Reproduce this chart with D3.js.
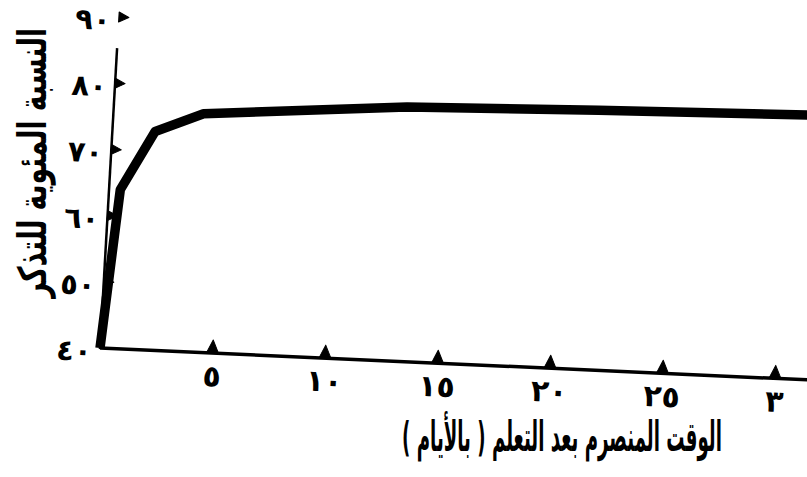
<!DOCTYPE html>
<html>
<head>
<meta charset="utf-8">
<script src="https://cdn.jsdelivr.net/npm/d3@7"></script>
<style>
  body { margin: 0; background: white; }
  text { font-family: "DejaVu Sans", sans-serif; font-weight: bold; }
</style>
</head>
<body>
<div id="container"></div>
<script>
/* CONSTANTS AND GLOBALS */
const width = 807,
  height = 477;

// DATA
const days = [0, 0.5, 1.9, 4, 13, 21.5, 32];
const recall = [40, 64, 73, 76, 78.4, 79.2, 80];
const xTicks = [5, 10, 15, 20, 25, 30];
const xTickLabels = ["٥", "١٠", "١٥", "٢٠", "٢٥", "٣"];
const yTicks = [40, 50, 60, 70, 80, 90];
const yTickLabels = ["٤٠", "٥٠", "٦٠", "٧٠", "٨٠", "٩٠"];
const xTitle = "الوقت المنصرم بعد التعلم ( بالأيام )";
const yTitle = "النسبة المئوية للتذكر";

const data = days.map((d, i) => ({ day: d, value: recall[i] }));

// SCALES (local frame, origin at the axes corner)
const xScale = d3.scaleLinear()
  .domain([0, 30])
  .range([0, 675]);

const yScale = d3.scaleLinear()
  .domain([40, 90])
  .range([0, -331]);

// CREATE SVG ELEMENT
const svg = d3.select("#container")
  .append("svg")
  .attr("width", width)
  .attr("height", height)
  .style("background-color", "white");

// the scanned page is a little skewed, so the plot sits in a tilted frame
const plot = svg.append("g")
  .attr("transform", "matrix(1 0.045 -0.057 1 100 348)");

// BUILD AND CALL AXES
const xAxis = d3.axisBottom(xScale)
  .tickValues(xTicks)
  .tickFormat((d, i) => xTickLabels[i])
  .tickSize(0)
  .tickPadding(12);

const xAxisGroup = plot.append("g")
  .attr("class", "xAxis")
  .call(xAxis);

xAxisGroup.select(".domain").remove();
xAxisGroup.selectAll("text")
  .attr("font-size", 30)
  .attr("letter-spacing", -2)
  .attr("fill", "black");

const yAxis = d3.axisLeft(yScale)
  .tickValues(yTicks)
  .tickFormat((d, i) => yTickLabels[i])
  .tickSize(0)
  .tickPadding(8);

const yAxisGroup = plot.append("g")
  .attr("class", "yAxis")
  .call(yAxis);

yAxisGroup.select(".domain").remove();
yAxisGroup.selectAll("text")
  .attr("font-size", 29)
  .attr("letter-spacing", -4)
  .attr("dy", "0.45em")
  .attr("fill", "black");

// axis lines
plot.append("line")
  .attr("x1", xScale(0))
  .attr("x2", xScale(32))
  .attr("y1", 0)
  .attr("y2", 0)
  .attr("stroke", "black")
  .attr("stroke-width", 3.5);

plot.append("line")
  .attr("x1", 0)
  .attr("x2", 0)
  .attr("y1", yScale(40) + 1)
  .attr("y2", yScale(85.3))
  .attr("stroke", "black")
  .attr("stroke-width", 2.5);

// tick marks: little triangles
plot.selectAll(".xTick")
  .data(xTicks)
  .join("path")
  .attr("class", "xTick")
  .attr("d", d => `M${xScale(d) - 6},0 L${xScale(d)},-13 L${xScale(d) + 6},0 Z`)
  .attr("fill", "black")
  .attr("stroke", "black")
  .attr("stroke-linejoin", "round");

plot.selectAll(".yTick")
  .data(yTicks.slice(1))
  .join("path")
  .attr("class", "yTick")
  .attr("d", d => `M0,${yScale(d) - 5} L10,${yScale(d)} L0,${yScale(d) + 5} Z`)
  .attr("fill", "black")
  .attr("stroke", "black")
  .attr("stroke-linejoin", "round");

// LINE
const lineGen = d3.line()
  .x(d => xScale(d.day))
  .y(d => yScale(d.value));

plot.append("path")
  .datum(data)
  .attr("d", lineGen)
  .attr("fill", "none")
  .attr("stroke", "black")
  .attr("stroke-width", 9.5)
  .attr("stroke-linejoin", "round");

// TITLES (hand lettering is tall and narrow, so stretch a bit)
svg.append("text")
  .attr("transform", "translate(562, 451) scale(0.7, 1.6)")
  .attr("font-size", 26)
  .style("text-anchor", "middle")
  .attr("direction", "rtl")
  .text(xTitle);

svg.append("text")
  .attr("transform", "translate(46, 163) rotate(-90) scale(0.88, 1.3)")
  .attr("font-size", 30)
  .style("text-anchor", "middle")
  .attr("direction", "rtl")
  .text(yTitle);
</script>
</body>
</html>
